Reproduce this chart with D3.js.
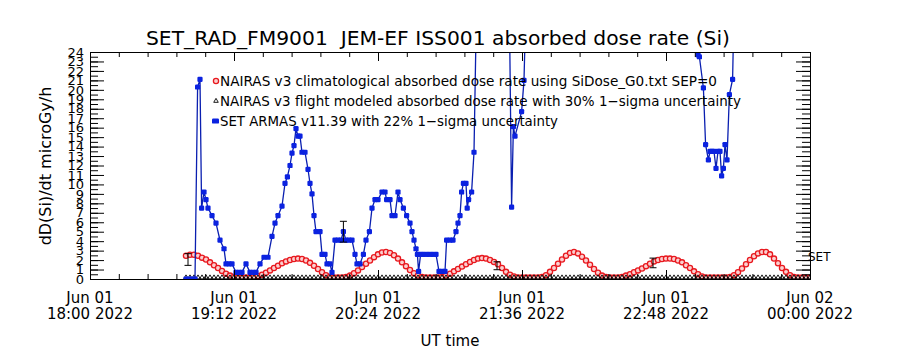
<!DOCTYPE html>
<html>
<head>
<meta charset="utf-8">
<script src="https://cdn.jsdelivr.net/npm/d3@7"></script>
<style>
  body { margin: 0; background: #fff; }
  text { font-family: "DejaVu Sans", sans-serif; }
</style>
</head>
<body>
<script>
// ---------------- DATA ----------------
// time in minutes after 2022-06-01 18:00 UT
const xTickMinutes = [0, 72, 144, 216, 288, 360];
const xTickLine1 = ["Jun 01", "Jun 01", "Jun 01", "Jun 01", "Jun 01", "Jun 02"];
const xTickLine2 = ["18:00 2022", "19:12 2022", "20:24 2022", "21:36 2022", "22:48 2022", "00:00 2022"];
const yTickValues = [0,1,2,3,4,5,6,7,8,9,10,11,12,13,14,15,16,17,18,19,20,21,22,23,24];

const titleText = "SET_RAD_FM9001  JEM-EF ISS001 absorbed dose rate (Si)";
const yTitle = "dD(Si)/dt microGy/h";
const xTitle = "UT time";
const legendLabels = [
  "NAIRAS v3 climatological absorbed dose rate using SiDose_G0.txt SEP=0",
  "NAIRAS v3 flight modeled absorbed dose rate with 30% 1\u2212sigma uncertainty",
  "SET ARMAS v11.39 with 22% 1\u2212sigma uncertainty"
];

// NAIRAS v3 climatological (red), every 2 min from 48 to 360
const redT = d3.range(48, 361, 2);
const redV = [
  2.3,2.4,2.4,2.3,2.1,1.9,1.6,1.3,1.0,0.7,
  0.4,0.2,0.05,0,0,0,0,0.05,0.15,0.3,
  0.5,0.75,1.0,1.25,1.5,1.7,1.85,1.95,2.0,1.95,
  1.8,1.55,1.25,0.9,0.55,0.25,0.05,0,0,0,
  0.05,0.2,0.45,0.75,1.1,1.45,1.8,2.15,2.45,2.65,
  2.7,2.6,2.35,2.0,1.6,1.2,0.8,0.45,0.2,0.05,
  0,0,0,0,0.05,0.2,0.4,0.65,0.9,1.15,
  1.4,1.65,1.85,2.0,2.05,2.0,1.85,1.65,1.4,1.0,
  0.6,0.3,0.1,0,0,0,0,0,0,0.05,
  0.25,0.6,1.0,1.45,1.9,2.3,2.6,2.7,2.55,2.2,
  1.8,1.35,0.9,0.5,0.2,0.05,0,0,0,0.05,
  0.2,0.35,0.55,0.75,0.95,1.2,1.45,1.7,1.85,1.95,
  2.0,2.0,1.95,1.8,1.6,1.3,1.0,0.65,0.35,0.1,
  0,0,0,0,0,0,0.05,0.25,0.55,0.95,
  1.4,1.85,2.25,2.55,2.7,2.7,2.45,2.0,1.5,1.0,
  0.6,0.25,0.05,0,0,0,0
];

// NAIRAS v3 flight modeled (black triangles), every 2 min from 48 to 360
const flightT = d3.range(48, 361, 2);
const flightV = [
  0,0,0,0,0,0,0,0,0,0, 0,0,0,0,0,0,0,0,0,0,
  0,0,0,0,0,0,0,0,0,0, 0,0,0,0,0,0,0,0,0,0,
  0,0,0,0,0,0,0,0,0,0, 0,0,0,0,0,0,0,0,0,0,
  0,0,0,0,0,0,0,0,0,0, 0,0,0,0,0,0,0,0,0,0,
  0,0,0,0,0,0,0,0,0,0, 0,0,0,0,0,0,0,0,0,0,
  0,0,0,0,0,0,0,0,0,0, 0,0,0,0,0,0,0,0,0,0,
  0,0,0,0,0,0,0,0,0,0, 0,0,0,0,0,0,0,0,0,0,
  0,0,0,0,0,0,0,0,0,0, 0,0,0,0,0,0,0
];

// SET ARMAS (blue)
const blueT = [
  48,49.5,51,52.5,53.8,55,55.8,57,58,59,61,63,65,67,68,69.5,71,73,74.5,76,
  78,80,81.5,83,85,87,89,91,92.5,94,96,97.5,98.7,100,101,102,103,104,105,106,
  107.5,109,110,111,112,113,115,116,117.5,118.5,120,121,122.5,124,125.5,126.7,128,129.5,131,132.5,
  133.5,135,136.7,138,139.7,141,142.5,144,146,147.5,148.3,150,151,152.5,154,155,156.7,158.3,160,161,
  162,163,163.7,164.3,165.3,167,169,171,173,174.5,176,177.5,178.3,180,181.5,183,184,185,185.8,186.7,
  188,188.6,189.3,190.8,192,193.5,200,209.5,210.8,211.7,212.5,215.8,217,218.3,260,303.5,304,304.7,306.7,307.8,
  309.2,310,311,312,313,314,315,315.8,316.7,317.5,318.5,319.7,321.3,322.3
];
const blueV = [
  0,0,0,0,20.3,21.1,7.5,9.2,8.4,7.5,6.7,5.9,4.1,3.2,1.6,1.6,1.6,0.7,0.7,0.7,
  1.6,0.7,0.7,0.7,1.6,2.3,2.3,4.5,5.9,6.7,7.7,10.1,10.8,12.0,13.3,14.1,15.9,15.1,15.1,13.4,
  13.4,11.6,10.1,9.0,6.7,5.0,5.0,2.6,2.6,1.6,1.6,0.7,4.1,4.1,4.1,5.0,4.1,4.1,4.1,2.6,
  1.6,1.6,2.6,4.1,5.0,7.5,8.4,8.4,9.2,9.2,8.4,8.4,6.7,6.7,9.2,8.4,7.5,6.7,5.9,5.0,
  4.1,3.2,2.6,0.8,2.6,2.6,2.6,2.6,2.6,0.8,0.8,0.8,4.1,4.1,4.1,5.0,5.9,6.7,9.2,10.1,
  10.1,7.5,8.4,9.2,13.4,32,40,32,7.6,16.1,15.1,17.7,21.0,32,40,30,23.7,23.5,20.2,14.2,
  12.6,13.5,13.5,13.5,11.7,13.5,13.5,10.9,11.7,14.2,12.6,19.5,21.1,32
];

// error bars: time, centre value, relative 1-sigma
const errT = [49, 126.7, 203.5, 281.5];
const errV = [2.06, 5.0, 1.4, 1.7];
const errSigma = [0.30, 0.22, 0.30, 0.30];

// ---------------- CHART ----------------
const W = 900, H = 350;
const margin = { left: 90, right: 90, top: 52, bottom: 71 };
const T0 = Date.UTC(2022, 5, 1, 18, 0);
const toDate = m => new Date(T0 + m * 60000);

const x = d3.scaleUtc().domain([toDate(0), toDate(360)]).range([margin.left, W - margin.right]);
const y = d3.scaleLinear().domain([0, 24]).range([H - margin.bottom, margin.top]);

const svg = d3.select("body").append("svg").attr("width", W).attr("height", H);
svg.append("rect").attr("width", W).attr("height", H).attr("fill", "#fff");

svg.append("defs").append("clipPath").attr("id", "plotclip")
  .append("rect")
  .attr("x", x.range()[0]).attr("y", y.range()[1])
  .attr("width", x.range()[1] - x.range()[0])
  .attr("height", y.range()[0] - y.range()[1] + 1);

// title
svg.append("text").attr("x", 146).attr("y", 45).attr("text-anchor", "start")
  .attr("xml:space", "preserve")
  .attr("font-size", 20).attr("fill", "#000")
  .attr("textLength", 584).attr("lengthAdjust", "spacingAndGlyphs")
  .text(titleText);

const plot = svg.append("g").attr("clip-path", "url(#plotclip)");

// red climatological markers
const red = redT.map((t, i) => ({ t: toDate(t), v: redV[i] }));
plot.append("g").selectAll("circle").data(red).join("circle")
  .attr("cx", d => x(d.t)).attr("cy", d => y(d.v) - 1.5).attr("r", 2.6)
  .attr("fill", "#fbd0d0").attr("stroke", "#e8181e").attr("stroke-width", 1.3);

// black flight-modeled triangles
const flight = flightT.map((t, i) => ({ t: toDate(t), v: flightV[i] }));
const tri = d3.symbol().type(d3.symbolTriangle).size(9);
plot.append("g").selectAll("path").data(flight).join("path")
  .attr("d", tri).attr("transform", d => `translate(${x(d.t)},${y(d.v) - 1.5})`)
  .attr("fill", "none").attr("stroke", "#000").attr("stroke-width", 0.9);

// blue SET ARMAS
const blue = blueT.map((t, i) => ({ t: toDate(t), v: blueV[i] }));
plot.append("path").datum(blue)
  .attr("d", d3.line().x(d => x(d.t)).y(d => y(d.v)))
  .attr("fill", "none").attr("stroke", "#0a1fb0").attr("stroke-width", 1.3);
plot.append("g").selectAll("rect").data(blue).join("rect")
  .attr("x", d => x(d.t) - 2.6).attr("y", d => y(d.v) - 2.6)
  .attr("width", 5.2).attr("height", 5.2).attr("rx", 1.2)
  .attr("fill", "#0b22e0");

// error bars
const errs = errT.map((t, i) => ({ t: toDate(t), v: errV[i], s: errV[i] * errSigma[i] }));
const eg = plot.append("g").attr("stroke", "#000").attr("stroke-width", 1);
errs.forEach(d => {
  const cx = x(d.t), y1 = y(d.v - d.s), y2 = y(d.v + d.s);
  eg.append("line").attr("x1", cx).attr("x2", cx).attr("y1", y1).attr("y2", y2);
  eg.append("line").attr("x1", cx - 3.5).attr("x2", cx + 3.5).attr("y1", y1).attr("y2", y1);
  eg.append("line").attr("x1", cx - 3.5).attr("x2", cx + 3.5).attr("y1", y2).attr("y2", y2);
});

// axes
const xMajor = xTickMinutes.map(toDate);
const xMinor = d3.range(0, 361, 14.4).map(toDate);
const yMinor = d3.range(0, 24.01, 0.5);

function styleAxis(g) {
  g.selectAll("path.domain").attr("stroke", "#000").attr("stroke-width", 1);
  g.selectAll(".tick line").attr("stroke", "#000").attr("stroke-width", 1);
}
const bottomY = y.range()[0], topY = y.range()[1];
const leftX = x.range()[0], rightX = x.range()[1];

svg.append("g").attr("transform", `translate(0,${bottomY})`)
  .call(d3.axisBottom(x).tickValues(xMinor).tickSize(-5).tickSizeOuter(0).tickFormat(""))
  .call(styleAxis);
svg.append("g").attr("transform", `translate(0,${bottomY})`)
  .call(d3.axisBottom(x).tickValues(xMajor).tickSize(-9).tickSizeOuter(0).tickFormat(""))
  .call(styleAxis);
svg.append("g").attr("transform", `translate(0,${topY})`)
  .call(d3.axisTop(x).tickValues(xMinor).tickSize(-5).tickSizeOuter(0).tickFormat(""))
  .call(styleAxis);
svg.append("g").attr("transform", `translate(0,${topY})`)
  .call(d3.axisTop(x).tickValues(xMajor).tickSize(-9).tickSizeOuter(0).tickFormat(""))
  .call(styleAxis);

svg.append("g").attr("transform", `translate(${leftX},0)`)
  .call(d3.axisLeft(y).tickValues(yMinor).tickSize(-8).tickSizeOuter(0).tickFormat(""))
  .call(styleAxis);
const yl = svg.append("g").attr("transform", `translate(${leftX},0)`)
  .call(d3.axisLeft(y).tickValues(yTickValues).tickSize(-14).tickSizeOuter(0).tickPadding(6).tickFormat(d => String(d)))
  .call(styleAxis);
yl.selectAll(".tick text").attr("font-size", 13).attr("fill", "#000")
  .attr("font-family", "DejaVu Sans");
svg.append("g").attr("transform", `translate(${rightX},0)`)
  .call(d3.axisRight(y).tickValues(yMinor).tickSize(-8).tickSizeOuter(0).tickFormat(""))
  .call(styleAxis);
svg.append("g").attr("transform", `translate(${rightX},0)`)
  .call(d3.axisRight(y).tickValues(yTickValues).tickSize(-14).tickSizeOuter(0).tickFormat(""))
  .call(styleAxis);

// x tick labels (two lines)
const xl = svg.append("g").attr("font-size", 15).attr("fill", "#000").attr("text-anchor", "middle");
xMajor.forEach((d, i) => {
  xl.append("text").attr("x", x(d)).attr("y", 303).text(xTickLine1[i]);
  xl.append("text").attr("x", x(d)).attr("y", 319).text(xTickLine2[i]);
});

// axis titles
svg.append("text").attr("x", 450).attr("y", 346).attr("text-anchor", "middle")
  .attr("font-size", 15).text(xTitle);
svg.append("text").attr("transform", "translate(51,166) rotate(-90)").attr("text-anchor", "middle")
  .attr("font-size", 16).text(yTitle);

// SET label at right
svg.append("text").attr("x", 808).attr("y", 261).attr("font-size", 12).text("SET");

// legend
const lg = svg.append("g");
const legY = [81, 101, 121];
lg.append("circle").attr("cx", 216).attr("cy", legY[0]).attr("r", 2.6)
  .attr("fill", "#fbd0d0").attr("stroke", "#e8181e").attr("stroke-width", 1.3);
lg.append("path").attr("d", tri).attr("transform", `translate(216,${legY[1]})`)
  .attr("fill", "none").attr("stroke", "#000").attr("stroke-width", 0.9);
lg.append("rect").attr("x", 212).attr("y", legY[2] - 2.6).attr("width", 7).attr("height", 5.2)
  .attr("rx", 1.2).attr("fill", "#0b22e0");
const legW = [497, 521, 338];
legendLabels.forEach((s, i) => {
  lg.append("text").attr("x", 220).attr("y", legY[i] + 5).attr("font-size", 14)
    .attr("textLength", legW[i]).attr("lengthAdjust", "spacingAndGlyphs").text(s);
});
</script>
</body>
</html>
